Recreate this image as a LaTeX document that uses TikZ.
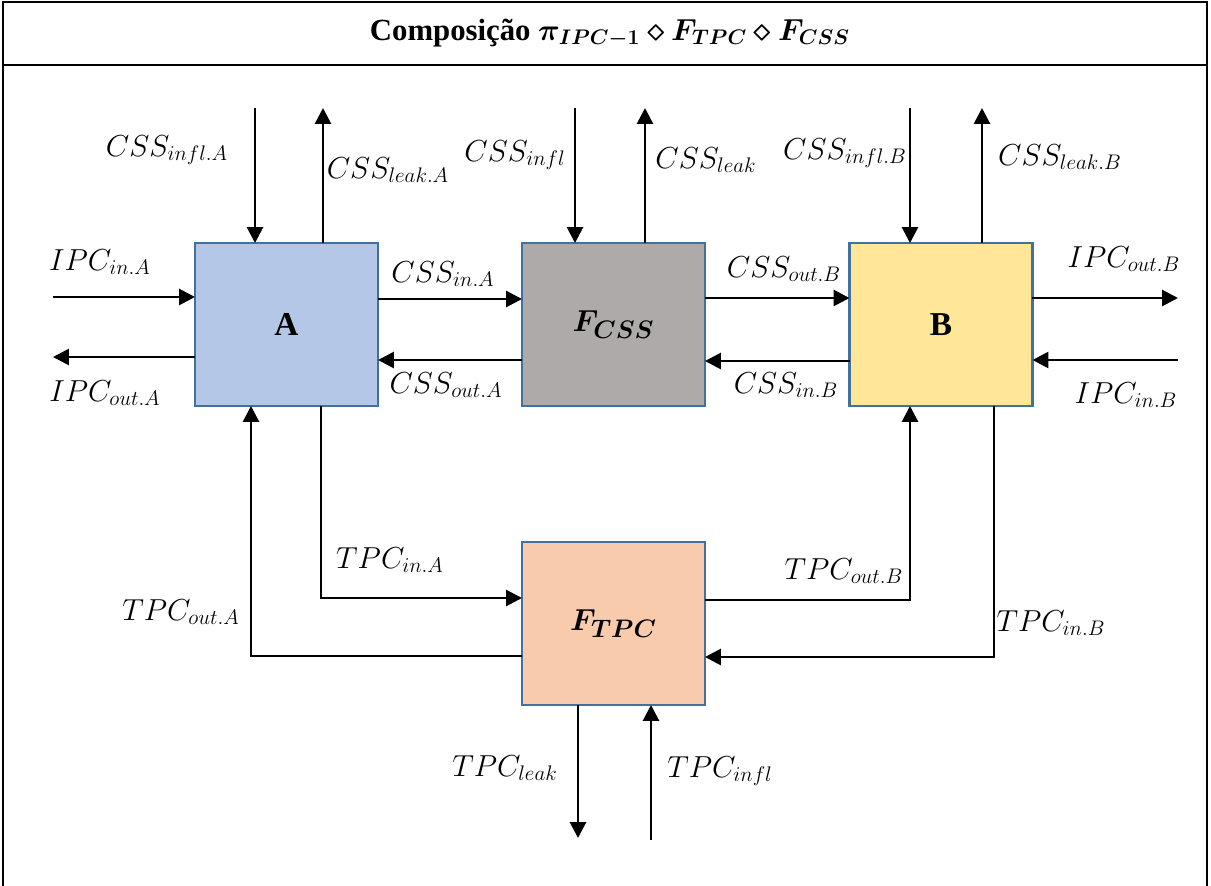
\documentclass[tikz,border=0pt]{standalone}
\usepackage{amsmath}
\usepackage{bm}
\usepackage{fontspec}
\setmainfont{Liberation Serif}
\usetikzlibrary{arrows.meta}
\definecolor{BoxEdge}{HTML}{41719C}
\definecolor{BlueFill}{HTML}{B4C7E7}
\definecolor{GreyFill}{HTML}{AEAAAA}
\definecolor{YellowFill}{HTML}{FFE699}
\definecolor{PeachFill}{HTML}{F8CBAD}

\begin{document}
\begin{tikzpicture}[
    x=0.02cm, y=-0.02cm,
    block/.style={
        draw=BoxEdge,
        line width=1.2pt,
        minimum width=3.66cm,
        minimum height=3.26cm,
        inner sep=0pt, outer sep=0pt,
        font=\fontsize{19}{21}\selectfont\bfseries
    },
    flow/.style={-{Triangle[length=9pt,width=9pt]}, line width=1.6pt},
    lbl/.style={inner sep=1pt, font=\fontsize{16.5}{20}\selectfont},
    rule/.style={line width=1.3pt}
]
    \useasboundingbox (0,0) rectangle (1211,886);

    % table frame and title row
    \draw[rule] (3,886) -- (3,2) -- (1207,2) -- (1207,886);
    \draw[rule] (3,65) -- (1207,65);
    \node[font=\fontsize{17.5}{20}\selectfont\bfseries] (title) at (610,33)
        {Composição $\bm{\pi_{IPC-1}\diamond F_{TPC}\diamond F_{CSS}}$};

    % blocks
    \node[block, fill=BlueFill] (a) at (286.5,324.5) {A};
    \node[block, fill=GreyFill] (fcss) at (613.5,324.5) {$\bm{F_{CSS}}$};
    \node[block, fill=YellowFill] (b) at (941,324.5) {B};
    \node[block, fill=PeachFill] (ftpc) at (613.5,623.5) {$\bm{F_{TPC}}$};

    % free ends
    \coordinate (inflA) at (255,108);
    \coordinate (leakA) at (323,108);
    \coordinate (infl) at (575,108);
    \coordinate (leak) at (645,108);
    \coordinate (inflB) at (910,108);
    \coordinate (leakB) at (982,108);
    \coordinate (ipcInA) at (53,297);
    \coordinate (ipcOutA) at (53,357);
    \coordinate (ipcOutB) at (1178,298);
    \coordinate (ipcInB) at (1178,360);
    \coordinate (leakT) at (578,838);
    \coordinate (inflT) at (651,840);

    % CSS influx and leakage
    \draw[flow] (inflA) -- (a.north -| inflA);
    \draw[flow] (a.north -| leakA) -- (leakA);
    \draw[flow] (infl) -- (fcss.north -| infl);
    \draw[flow] (fcss.north -| leak) -- (leak);
    \draw[flow] (inflB) -- (b.north -| inflB);
    \draw[flow] (b.north -| leakB) -- (leakB);

    \node[lbl] (lInflA) at (167,150) {$CSS_{infl.A}$};
    \node[lbl] (lLeakA) at (388,170) {$CSS_{leak.A}$};
    \node[lbl] (lInfl) at (515,155) {$CSS_{infl}$};
    \node[lbl] (lLeak) at (706,160) {$CSS_{leak}$};
    \node[lbl] (lInflB) at (845,153) {$CSS_{infl.B}$};
    \node[lbl] (lLeakB) at (1060,157) {$CSS_{leak.B}$};

    % IPC ports
    \draw[flow] (ipcInA) -- (a.west |- ipcInA);
    \draw[flow] (a.west |- ipcOutA) -- (ipcOutA);
    \draw[flow] (b.east |- ipcOutB) -- (ipcOutB);
    \draw[flow] (ipcInB) -- (b.east |- ipcInB);

    \node[lbl] (lIpcInA) at (100,262) {$IPC_{in.A}$};
    \node[lbl] (lIpcOutA) at (105,393) {$IPC_{out.A}$};
    \node[lbl] (lIpcOutB) at (1124,259) {$IPC_{out.B}$};
    \node[lbl] (lIpcInB) at (1126,395) {$IPC_{in.B}$};

    % CSS exchange
    \draw[flow] (a.east |- 0,299) -- (fcss.west |- 0,299);
    \draw[flow] (fcss.west |- 0,360) -- (a.east |- 0,360);
    \draw[flow] (fcss.east |- 0,298) -- (b.west |- 0,298);
    \draw[flow] (b.west |- 0,361) -- (fcss.east |- 0,361);

    \node[lbl] (lCssInA) at (443,274) {$CSS_{in.A}$};
    \node[lbl] (lCssOutA) at (446,385) {$CSS_{out.A}$};
    \node[lbl] (lCssOutB) at (784,269) {$CSS_{out.B}$};
    \node[lbl] (lCssInB) at (786,385) {$CSS_{in.B}$};

    % TPC exchange
    \draw[flow] (a.south -| 321,0) |- (ftpc.west |- 0,598);
    \draw[flow] (ftpc.west |- 0,656) -| (a.south -| 251,0);
    \draw[flow] (ftpc.east |- 0,600) -| (b.south -| 910,0);
    \draw[flow] (b.south -| 994,0) |- (ftpc.east |- 0,657);

    \node[lbl] (lTpcInA) at (390,560) {$TPC_{in.A}$};
    \node[lbl] (lTpcOutA) at (181,612) {$TPC_{out.A}$};
    \node[lbl] (lTpcOutB) at (844,571) {$TPC_{out.B}$};
    \node[lbl] (lTpcInB) at (1051,623) {$TPC_{in.B}$};

    % TPC leakage and influx
    \draw[flow] (ftpc.south -| leakT) -- (leakT);
    \draw[flow] (inflT) -- (ftpc.south -| inflT);

    \node[lbl] (lLeakT) at (505,768) {$TPC_{leak}$};
    \node[lbl] (lInflT) at (720,771) {$TPC_{infl}$};
\end{tikzpicture}
\end{document}
